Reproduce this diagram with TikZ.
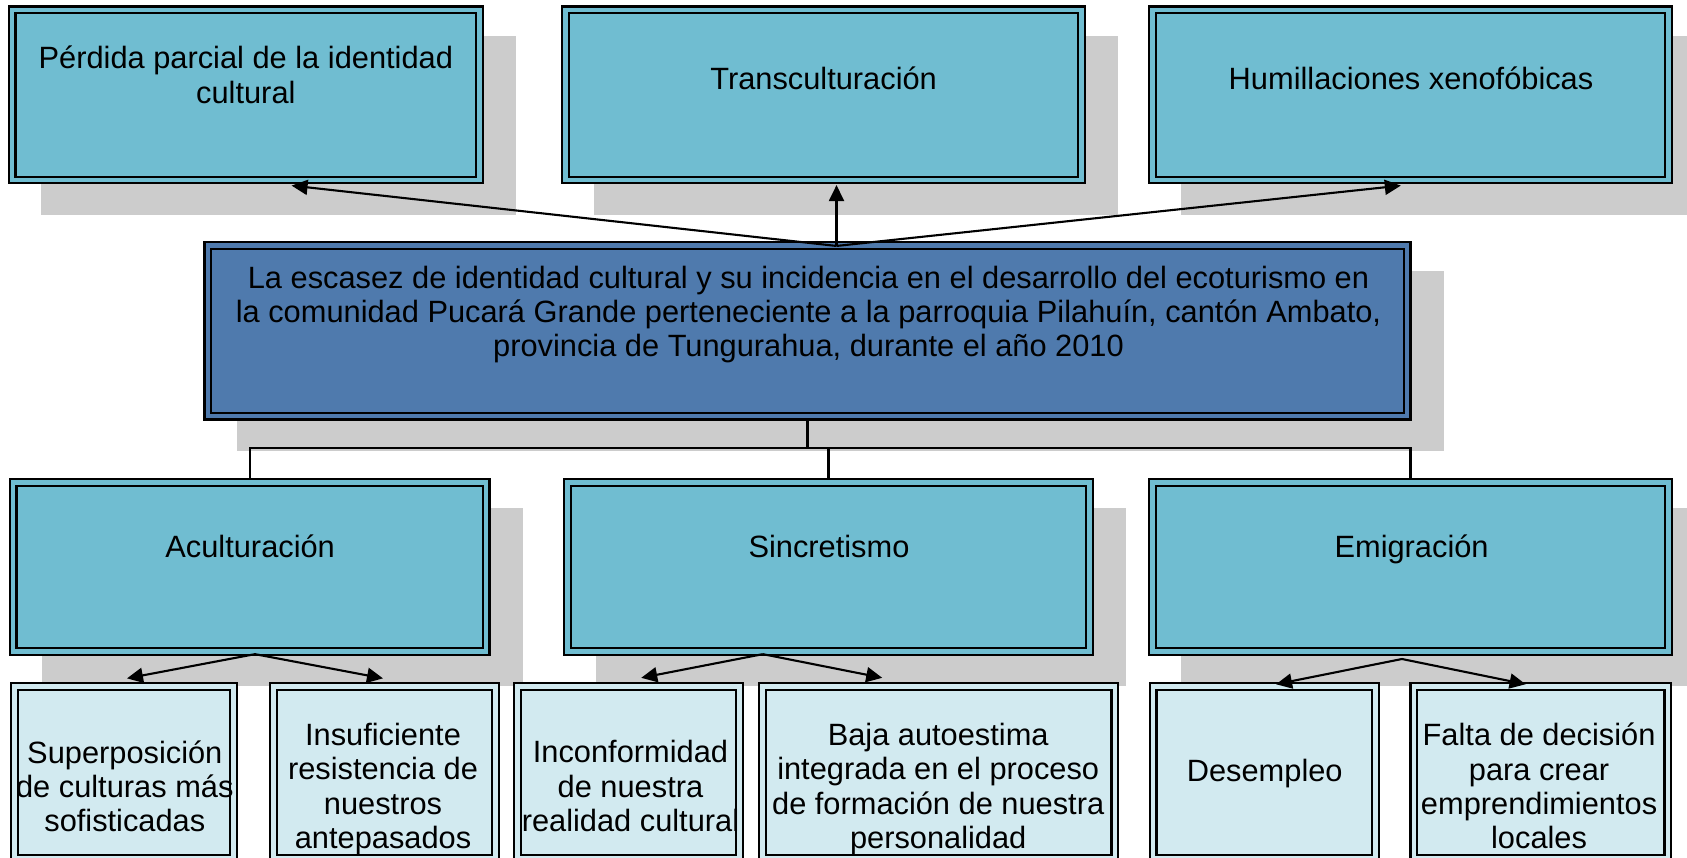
\documentclass[tikz,border=0pt]{standalone}
\usepackage{fontspec}
\setmainfont{Liberation Sans}
\usetikzlibrary{arrows.meta}
\definecolor{midfill}{RGB}{112,189,209}
\definecolor{cenfill}{RGB}{79,122,173}
\definecolor{botfill}{RGB}{210,234,240}
\definecolor{shadowc}{RGB}{204,204,204}
\pgfdeclarelayer{background}
\pgfsetlayers{background,main}
% name, x1, y1, x2, y2, fill  (outer line centres, in reduced px)
\newcommand\mkbox[6]{%
  \begin{pgfonlayer}{background}
    \fill[shadowc] ({#2+30},{#3+27}) rectangle ({#4+31},{#5+29});
  \end{pgfonlayer}
  \node[dbl, fill=#6, double=#6,
        minimum width={(#4-#2-6.4)*0.538pt},
        minimum height={(#5-#3-6.4)*0.538pt}] (#1) at ({(#2+#4)/2},{(#3+#5)/2}) {};
}
\newcommand\mkboxns[6]{%
  \node[dbl, fill=#6, double=#6,
        minimum width={(#4-#2-6.4)*0.538pt},
        minimum height={(#5-#3-6.4)*0.538pt}] (#1) at ({(#2+#4)/2},{(#3+#5)/2}) {};
}
\begin{document}
\begin{tikzpicture}[x=0.538pt, y=-0.538pt,
  dbl/.style={draw=black, line width=1.1pt, double distance=2.3pt, inner sep=0pt, outer sep=0pt},
  txt/.style={font={\fontsize{15.4pt}{17.1pt}\selectfont\lineskiplimit=-100pt}, align=center, inner sep=0pt,
              execute at begin node={\rule{0pt}{0.95em}},
              execute at end node={\rule[-0.25em]{0pt}{0.25em}}},
  conn/.style={draw=black, line width=1.05pt},
  arr/.style={conn, -{Triangle[length=8pt,width=7.5pt]}}]
\useasboundingbox (0,0) rectangle (1568,797);
\clip (0,0) rectangle (1568,797);

% top row
\mkbox{b1}{8}{6}{449}{170.5}{midfill}
\mkbox{b2}{522.5}{6}{1008.5}{170.5}{midfill}
\mkbox{b3}{1068}{6}{1554}{170.5}{midfill}
% centre
\mkbox{c}{190}{225}{1311}{390}{cenfill}
% second row
\mkbox{r1}{9}{445}{455}{609}{midfill}
\mkbox{r2}{524}{445}{1016}{609}{midfill}
\mkbox{r3}{1068}{445}{1554}{609}{midfill}
% bottom row
\mkboxns{s1}{10}{635}{220}{801}{botfill}
\mkboxns{s2}{251}{635}{464}{801}{botfill}
\mkboxns{s3}{478}{635}{690.5}{801}{botfill}
\mkboxns{s4}{705.5}{635}{1039.5}{801}{botfill}
\mkboxns{s5}{1068.5}{635}{1281.5}{801}{botfill}
\mkboxns{s6}{1311}{635}{1553.5}{801}{botfill}

% texts
\node[txt] (t1) at (228.5,73) {Pérdida parcial de la identidad\\cultural};
\node[txt] (t2) at (765.5,73.5) {Transculturación};
\node[txt] (t3) at (1311.5,73.5) {Humillaciones xenofóbicas};
\node[txt] (tc) at (751.5,293) {La escasez de identidad cultural y su incidencia en el desarrollo del ecoturismo en\\la comunidad Pucará Grande perteneciente a la parroquia Pilahuín, cantón Ambato,\\provincia de Tungurahua, durante el año 2010};
\node[txt] (tr1) at (232.5,508.5) {Aculturación};
\node[txt] (tr2) at (770.5,508.5) {Sincretismo};
\node[txt] (tr3) at (1312,508.5) {Emigración};
\node[txt] (ts1) at (116,734) {Superposición\\de culturas más\\sofisticadas};
\node[txt] (ts2) at (356,734) {Insuficiente\\resistencia de\\nuestros\\antepasados};
\node[txt] (ts3) at (586,734) {Inconformidad\\de nuestra\\realidad cultural};
\node[txt] (ts4) at (872,734) {Baja autoestima\\integrada en el proceso\\de formación de nuestra\\personalidad};
\node[txt] (ts5) at (1175.5,716) {Desempleo};
\node[txt] (ts6) at (1430.5,734) {Falta de decisión\\para crear\\emprendimientos\\locales};

% tree from the centre box to the second row
\begin{pgfonlayer}{background}
  \draw[conn] (c.south) -- ++(0,29.7) coordinate (h);
  \draw[conn] (r1.north) |- (h) -| (r3.north);
  \draw[conn] (h) -| (r2.north);
\end{pgfonlayer}

% arrows to the top row
\coordinate (J) at (777.5,228.6);
\coordinate (a1) at (271,172.5);
\coordinate (a2) at (777.5,172);
\coordinate (a3) at (1302,172.5);
\draw[arr] (J) -- (a1);
\draw[arr] (J) -- (a2);
\draw[arr] (J) -- (a3);

% arrows to the bottom row
\coordinate (jA) at (237,608);
\coordinate (A1) at (118,630.5);
\coordinate (A2) at (356,630.5);
\coordinate (jS) at (709,608);
\coordinate (S1) at (596,630);
\coordinate (S2) at (820,630);
\coordinate (jE) at (1303,612.5);
\coordinate (E1) at (1186,636);
\coordinate (E2) at (1418,636);
\draw[arr] (jA) -- (A1);
\draw[arr] (jA) -- (A2);
\draw[arr] (jS) -- (S1);
\draw[arr] (jS) -- (S2);
\draw[arr] (jE) -- (E1);
\draw[arr] (jE) -- (E2);
\end{tikzpicture}
\end{document}
